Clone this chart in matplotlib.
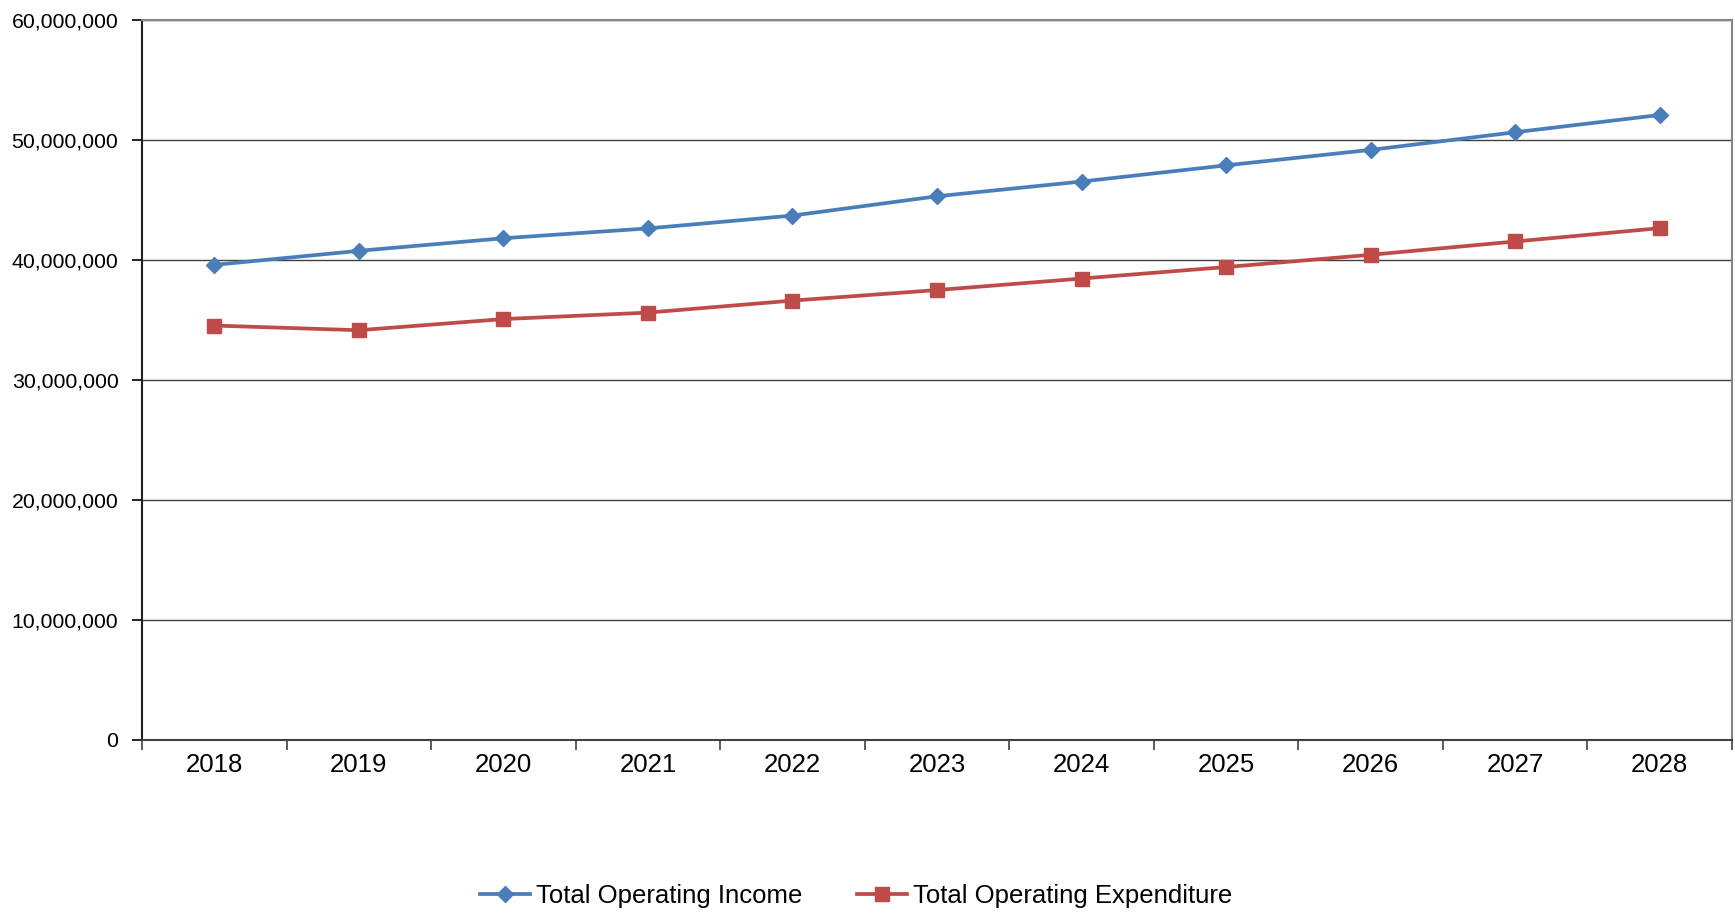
import matplotlib
matplotlib.use("Agg")
import matplotlib.pyplot as plt
from matplotlib.ticker import FuncFormatter, FixedLocator

plt.rcParams['font.family'] = ['Liberation Sans', 'DejaVu Sans']

# values
years = ["2018", "2019", "2020", "2021", "2022", "2023", "2024", "2025", "2026", "2027", "2028"]
income = [39.58e6, 40.75e6, 41.8e6, 42.62e6, 43.69e6, 45.3e6, 46.53e6, 47.88e6, 49.17e6, 50.64e6, 52.08e6]
expenditure = [34.52e6, 34.13e6, 35.06e6, 35.6e6, 36.6e6, 37.48e6, 38.44e6, 39.4e6, 40.42e6, 41.53e6, 42.64e6]

blue = "#4A7EBB"
red = "#BE4B48"

fig = plt.figure(figsize=(17.35, 9.15), dpi=100)
ax = fig.add_axes([142 / 1735, 1 - 739.5 / 915, 1590 / 1735, 719.5 / 915])

x = list(range(len(years)))
ax.plot(x, income, color=blue, linewidth=2.7, marker='D', markersize=8.5,
        label="Total Operating Income", zorder=3)
ax.plot(x, expenditure, color=red, linewidth=2.7, marker='s', markersize=9.5,
        label="Total Operating Expenditure", zorder=3)

ax.set_xlim(-0.5, len(years) - 0.5)
ax.set_ylim(0, 60e6)
ax.set_yticks([0, 10e6, 20e6, 30e6, 40e6, 50e6, 60e6])
ax.yaxis.set_major_formatter(FuncFormatter(lambda v, p: f"{int(v):,}"))
ax.grid(axis='y', color='#404040', linewidth=1.0, zorder=1)

# category labels centred, tick marks on the boundaries
ax.set_xticks(x)
ax.set_xticklabels(years)
ax.xaxis.set_minor_locator(FixedLocator([i - 0.5 for i in range(len(years) + 1)]))
ax.tick_params(axis='x', which='major', length=0, pad=10, labelsize=18.5)
ax.tick_params(axis='x', which='minor', length=7, width=1.2, direction='out', color='#404040')
ax.tick_params(axis='y', length=7, width=1.2, direction='out', pad=10, labelsize=15.3)

for side in ['top', 'right']:
    ax.spines[side].set_color('#868686')
    ax.spines[side].set_linewidth(1.5)
ax.spines['left'].set_color('#202020')
ax.spines['left'].set_linewidth(1.5)
ax.spines['bottom'].set_color('#404040')
ax.spines['bottom'].set_linewidth(1.5)

fig.legend(loc='center', bbox_to_anchor=(856 / 1735, 19 / 915), ncol=2, frameon=False,
           fontsize=18.5, handlelength=1.95, handletextpad=0.25, columnspacing=2.1)

fig.savefig("out.png", dpi=100)
